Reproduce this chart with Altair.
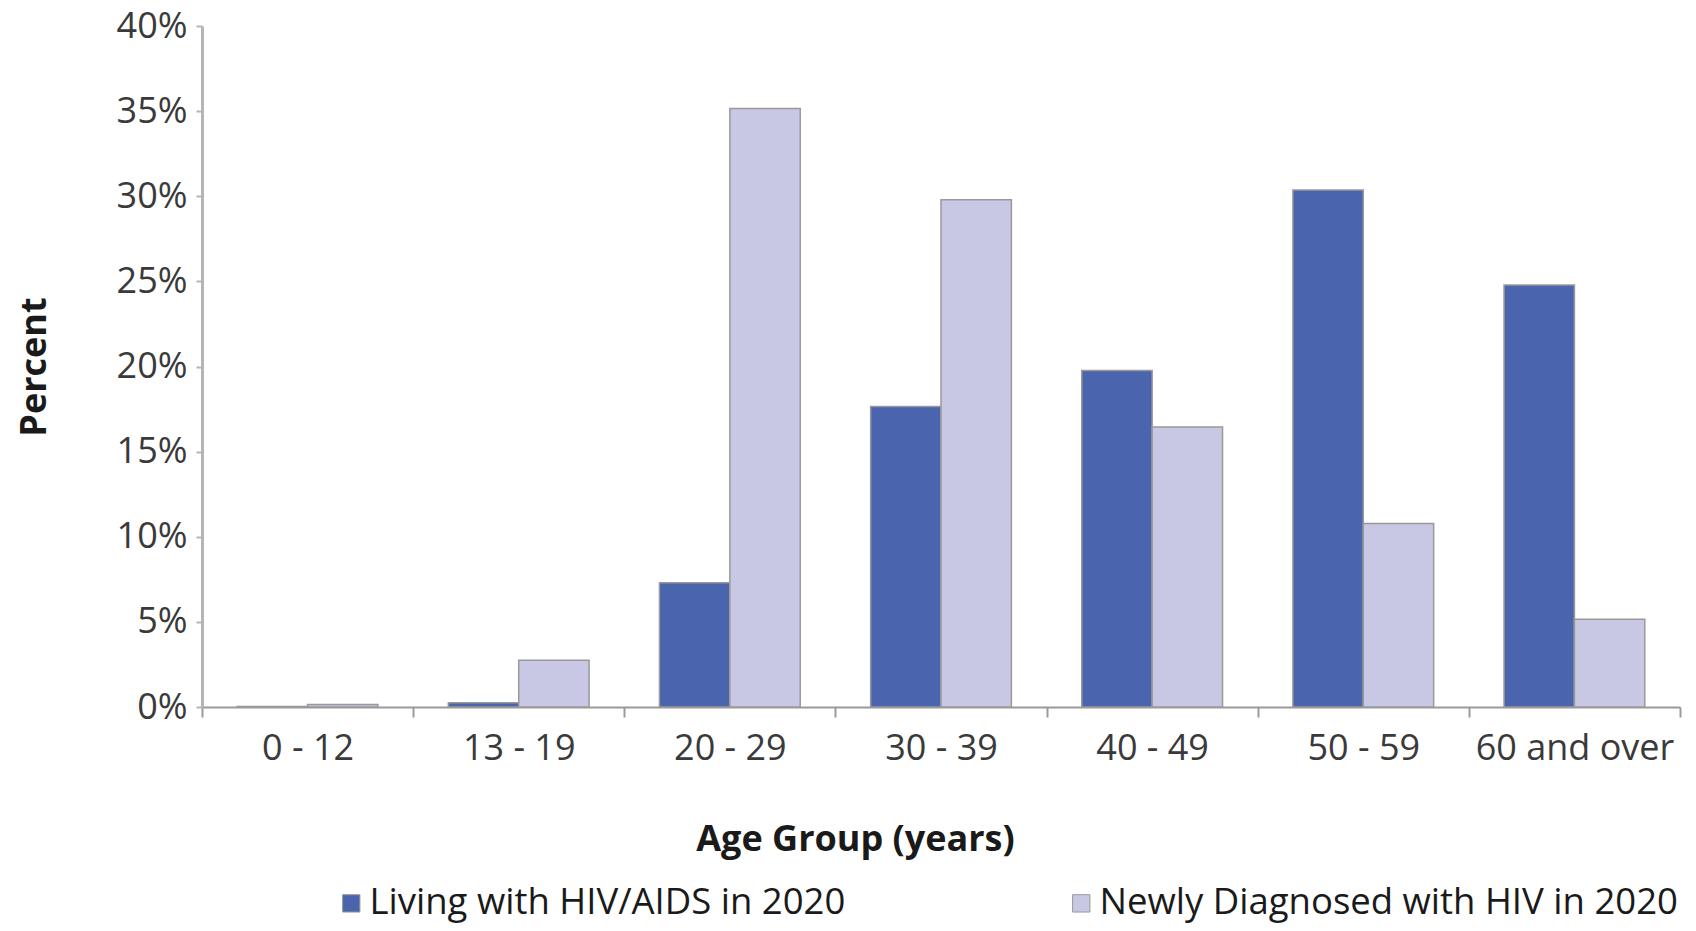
import altair as alt
import pandas as pd

categories = ["0 - 12", "13 - 19", "20 - 29", "30 - 39", "40 - 49", "50 - 59", "60 and over"]
series = ["Living with HIV/AIDS in 2020", "Newly Diagnosed with HIV in 2020"]
living = [0.0003, 0.0025, 0.073, 0.1765, 0.1977, 0.3037, 0.2478]
newly = [0.0015, 0.0275, 0.3516, 0.298, 0.1645, 0.1078, 0.0515]
y_ticks = [0, 0.05, 0.10, 0.15, 0.20, 0.25, 0.30, 0.35, 0.40]
colors = ["#4a65ad", "#c8c8e5"]

rows = []
for i, c in enumerate(categories):
    rows.append({"age": c, "series": series[0], "value": living[i]})
    rows.append({"age": c, "series": series[1], "value": newly[i]})
df = pd.DataFrame(rows)

FONT = "Open Sans"

chart = alt.Chart(df).mark_bar(stroke="#999999", strokeWidth=1.5).encode(
    x=alt.X(
        "age:N",
        sort=categories,
        scale=alt.Scale(paddingInner=0, paddingOuter=0),
        axis=alt.Axis(
            title="Age Group (years)",
            labelAngle=0,
            labelLimit=0,
            tickBand="extent",
            labelFont=FONT,
            labelFontSize=36,
            labelColor="#3a3a3a",
            labelPadding=14,
            tickSize=10,
            tickColor="#9a9a9a",
            tickWidth=2,
            domainColor="#9a9a9a",
            domainWidth=2,
            titleFont=FONT,
            titleFontSize=36,
            titleFontWeight="bold",
            titleColor="#1a1a1a",
            titleX=653,
            titleY=115,
            titleAlign="center",
            titleBaseline="top",
        ),
    ),
    xOffset=alt.XOffset(
        "series:N",
        sort=series,
        scale=alt.Scale(paddingInner=0, paddingOuter=0.5),
    ),
    y=alt.Y(
        "value:Q",
        scale=alt.Scale(domain=[0, 0.4], nice=False),
        axis=alt.Axis(
            title="Percent",
            values=y_ticks,
            format=".0%",
            grid=False,
            labelFont=FONT,
            labelFontSize=36,
            labelColor="#3a3a3a",
            labelPadding=9,
            tickSize=6,
            tickColor="#b5b5b5",
            tickWidth=2,
            domainColor="#b5b5b5",
            domainWidth=3,
            titleFont=FONT,
            titleFontSize=36,
            titleFontWeight="bold",
            titleColor="#1a1a1a",
            titlePadding=63,
        ),
    ),
    color=alt.Color(
        "series:N",
        sort=series,
        scale=alt.Scale(domain=series, range=colors),
        legend=alt.Legend(
            title=None,
            orient="none",
            legendX=126,
            legendY=859,
            padding=0,
            direction="horizontal",
            symbolType="square",
            symbolSize=300,
            symbolOffset=5,
            symbolStrokeColor="#999999",
            symbolStrokeWidth=1,
            labelFont=FONT,
            labelFontSize=36.5,
            labelColor="#1a1a1a",
            labelOffset=0,
            labelLimit=0,
            columnPadding=212,
        ),
    ),
).properties(
    width=1478,
    height=681,
    autosize=alt.AutoSizeParams(type="none"),
    padding={"left": 194, "top": 18, "right": 8, "bottom": 216},
    background="white",
).configure_view(stroke=None)

chart.save("out.html", embed_options={"renderer": "svg", "actions": False})
